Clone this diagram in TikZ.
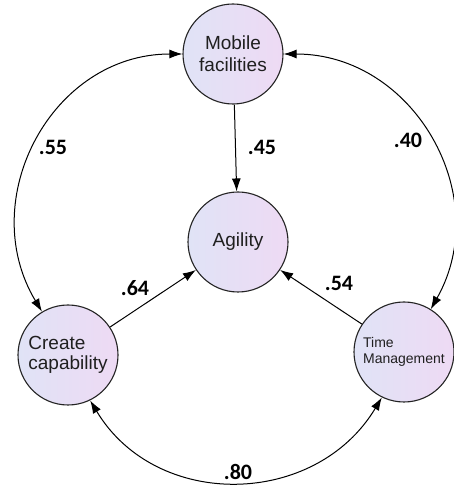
\documentclass[tikz,border=0pt]{standalone}
\usepackage{fontspec}
\setmainfont{Liberation Sans}
\newfontfamily\lblfont{Carlito}
\usetikzlibrary{arrows.meta}
\definecolor{fillL}{RGB}{224,227,246}
\definecolor{fillR}{RGB}{238,218,244}
\definecolor{edge}{RGB}{35,35,35}
\tikzset{
  factor/.style={circle, draw=edge, line width=1.1pt, minimum size=100pt, inner sep=0pt,
    left color=fillL, right color=fillR, text=black!88, align=left},
  conn/.style={line width=1pt, black},
  onearrow/.style={conn, -{Latex[length=13pt,width=9pt]}},
  biarrow/.style={conn, {Latex[length=13pt,width=9pt]}-{Latex[length=13pt,width=9pt]}},
  coef/.style={font=\lblfont\bfseries\fontsize{22}{24}\selectfont, inner sep=0pt}
}
\begin{document}
\begin{tikzpicture}[x=1pt,y=1pt]
\useasboundingbox (0,0) rectangle (454,490);
\node[factor, align=center, font=\fontsize{19}{22}\selectfont] (mob) at (233,436) {Mobile\\facilities};
\node[factor, font=\fontsize{19}{22}\selectfont] (ag) at (238,248) {Agility};
\node[factor, font=\fontsize{19}{20}\selectfont] (cc) at (68,135) {Create\\capability};
\node[factor, font=\fontsize{14}{16}\selectfont] (tm) at (404,138) {Time\\Management};

\draw[onearrow] (mob) -- (ag);
\draw[onearrow] (cc) -- (ag);
\draw[onearrow] (tm) -- (ag);

\draw[biarrow] (mob.180) to[out=180, in=121, looseness=1.14] (cc.121);
\draw[biarrow] (mob.0) to[out=0, in=60.5, looseness=1.13] (tm.58);
\draw[biarrow] (cc.-64) to[out=-59, in=-121, looseness=1.126] (tm.-116);

\node[coef] (l45) at (262,343) {.45};
\node[coef] (l55) at (53,343) {.55};
\node[coef] (l40) at (408,350) {.40};
\node[coef] (l64) at (135,202) {.64};
\node[coef] (l54) at (339,207) {.54};
\node[coef] (l80) at (238,18) {.80};
\end{tikzpicture}
\end{document}
